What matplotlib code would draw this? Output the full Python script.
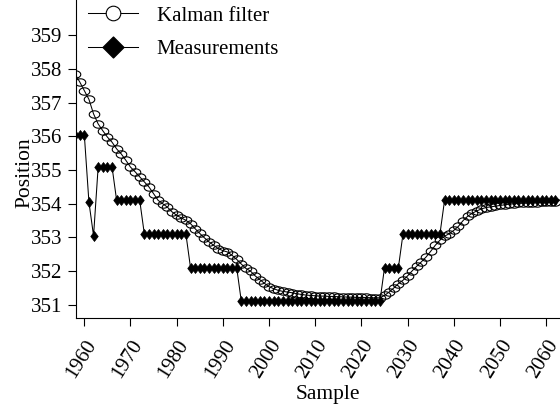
import matplotlib
matplotlib.use("Agg")
import matplotlib.pyplot as plt
from matplotlib.path import Path
from matplotlib.lines import Line2D
import numpy as np

plt.rcParams['font.family'] = ['Liberation Serif', 'DejaVu Serif']

samples = list(range(1958, 2063))

kalman = [357.85, 357.62, 357.36, 357.10, 356.67, 356.37, 356.17, 355.98, 355.83, 355.63,
          355.48, 355.29, 355.09, 354.95, 354.80, 354.65, 354.50, 354.30, 354.10, 354.00,
          353.90, 353.76, 353.66, 353.58, 353.51, 353.41, 353.26, 353.12, 352.99, 352.87,
          352.77, 352.67, 352.61, 352.57, 352.47, 352.35, 352.21, 352.08, 352.00, 351.86,
          351.75, 351.64, 351.54, 351.48, 351.43, 351.40, 351.38, 351.36, 351.33, 351.31,
          351.29, 351.28, 351.27, 351.26, 351.26, 351.25, 351.25, 351.24, 351.24, 351.23,
          351.23, 351.22, 351.22, 351.22, 351.21, 351.21, 351.21, 351.28, 351.38, 351.50,
          351.63, 351.73, 351.86, 352.01, 352.15, 352.28, 352.42, 352.59, 352.77, 352.92,
          353.04, 353.11, 353.21, 353.33, 353.50, 353.63, 353.72, 353.79, 353.85, 353.89,
          353.91, 353.93, 353.95, 353.97, 353.99, 354.00, 354.01, 354.02, 354.02, 354.03,
          354.03, 354.04, 354.04, 354.04, 354.05]

measurements = [356.05, 356.05, 356.05, 354.05, 353.05, 355.1, 355.1, 355.1, 355.1,
                354.1, 354.1, 354.1, 354.1, 354.1, 354.1,
                353.1, 353.1, 353.1, 353.1, 353.1, 353.1, 353.1, 353.1, 353.1, 353.1,
                352.1, 352.1, 352.1, 352.1, 352.1, 352.1, 352.1, 352.1, 352.1, 352.1, 352.1,
                351.1, 351.1, 351.1, 351.1, 351.1, 351.1, 351.1, 351.1, 351.1, 351.1,
                351.1, 351.1, 351.1, 351.1, 351.1, 351.1, 351.1, 351.1, 351.1, 351.1,
                351.1, 351.1, 351.1, 351.1, 351.1, 351.1, 351.1, 351.1, 351.1, 351.1, 351.1,
                352.1, 352.1, 352.1, 352.1,
                353.1, 353.1, 353.1, 353.1, 353.1, 353.1, 353.1, 353.1, 353.1,
                354.1, 354.1, 354.1, 354.1, 354.1, 354.1, 354.1, 354.1, 354.1, 354.1,
                354.1, 354.1, 354.1, 354.1, 354.1, 354.1, 354.1, 354.1, 354.1, 354.1,
                354.1, 354.1, 354.1, 354.1, 354.1]

xticks = [1960, 1970, 1980, 1990, 2000, 2010, 2020, 2030, 2040, 2050, 2060]
yticks = [351, 352, 353, 354, 355, 356, 357, 358, 359]

# custom markers (plot area is slightly squashed in the original)
th = np.linspace(0, 2 * np.pi, 41)
ellipse = Path(np.column_stack([np.cos(th), 0.7 * np.sin(th)]), closed=True)
diamond = Path([(0, 1), (0.75, 0), (0, -1), (-0.75, 0), (0, 1)], closed=True)
diamond_leg = Path([(0, 1), (1, 0), (0, -1), (-1, 0), (0, 1)], closed=True)

fig = plt.figure(figsize=(5.6, 4.05), dpi=100)
ax = fig.add_axes([76 / 560, (405 - 318) / 405, 1 - 76 / 560, 318 / 405])

ax.plot(samples, kalman, color='black', lw=0.75, marker=ellipse, ms=7.6,
        mfc='none', mec='black', mew=0.8, zorder=2)
ax.plot(samples, measurements, color='black', lw=0.75, marker=diamond, ms=7.2,
        mfc='black', mec='black', mew=0.5, zorder=3)

ax.set_xlim(1958.2, 2063)
ax.set_ylim(350.61, 360.05)
ax.set_xticks(xticks)
ax.set_yticks(yticks)
ax.tick_params(axis='both', direction='out', length=6, width=0.8, labelsize=15)
ax.tick_params(axis='x', pad=7)
for lab in ax.get_xticklabels():
    lab.set_rotation(58)
    lab.set_ha('right')
    lab.set_va('top')
    lab.set_rotation_mode('anchor')

for s in ['top', 'right']:
    ax.spines[s].set_visible(False)
for s in ['left', 'bottom']:
    ax.spines[s].set_linewidth(0.8)

ax.set_xlabel('Sample', fontsize=15.5)
ax.set_ylabel('Position', fontsize=15.5)
ax.xaxis.set_label_coords((328 - 76) / 484, (318 - 385) / 318)
ax.yaxis.set_label_coords((34 - 76) / 484, (318 - 173) / 318)

handles = [
    Line2D([], [], color='black', lw=0.75, marker='o', ms=10.5, mfc='white',
           mec='black', mew=0.8),
    Line2D([], [], color='black', lw=0.75, marker=diamond_leg, ms=15, mfc='black',
           mec='black'),
]
fig.legend(handles, ['Kalman filter', 'Measurements'], loc='upper left',
           bbox_to_anchor=(88 / 560, 1 - 6 / 405), frameon=False, fontsize=15,
           handlelength=2.4, handletextpad=0.9, labelspacing=0.68,
           borderpad=0, borderaxespad=0)

fig.savefig('out.png', dpi=100)
